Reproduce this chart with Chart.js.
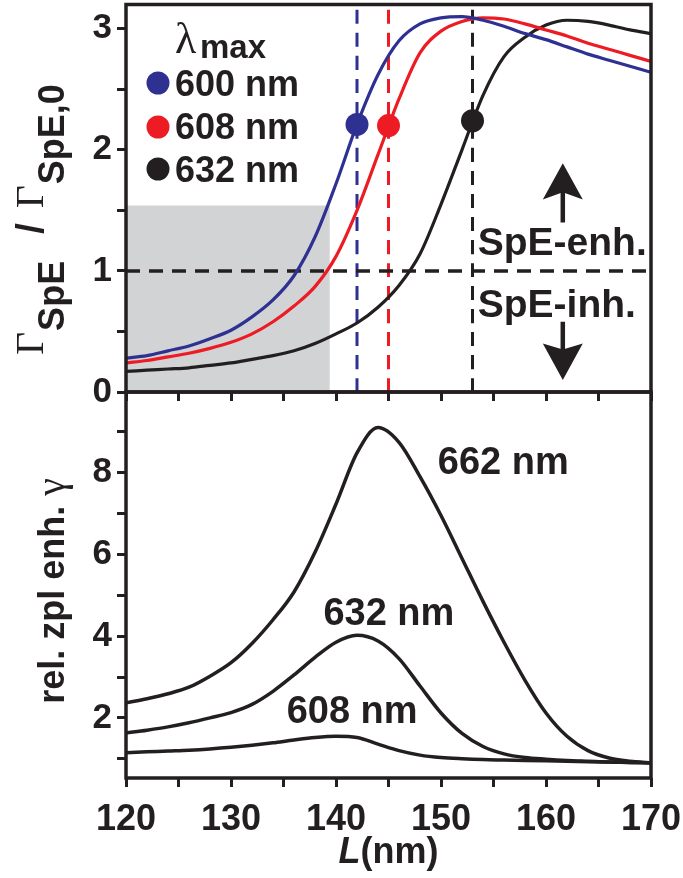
<!DOCTYPE html>
<html>
<head>
<meta charset="utf-8">
<script src="https://cdn.jsdelivr.net/npm/chart.js@4.4.0/dist/chart.umd.min.js"></script>
<style>
  html, body { margin: 0; padding: 0; background: #fff; }
  #wrap { position: relative; width: 683px; height: 878px; overflow: hidden; }
  /* the top canvas starts 7px above the page: Chart.js keeps room for the dot radius there */
  #topBox { position: absolute; left: 0; top: -7px; width: 683px; height: 427px; }
  #botBox { position: absolute; left: 0; top: 380px; width: 683px; height: 498px; }
</style>
</head>
<body>
<div id="wrap">
  <div id="topBox"><canvas id="topChart"></canvas></div>
  <div id="botBox"><canvas id="botChart"></canvas></div>
</div>
<script>
// cavity length L (nm), shared by all curves
const L = [120, 122, 124, 126, 128, 130, 132, 134, 136, 138, 140, 142, 144,
           146, 148, 150, 152, 154, 156, 158, 160, 162, 164, 166, 168, 170];

// top panel: Gamma_SpE / Gamma_SpE,0 for three lambda_max
const seriesNames = ['600 nm', '608 nm', '632 nm'];
const seriesColors = ['#2e3192', '#ed1c24', '#231f20'];
const rate600 = [0.28, 0.30, 0.34, 0.38, 0.44, 0.51, 0.62, 0.76, 0.96, 1.28, 1.72, 2.21, 2.62,
                 2.90, 3.04, 3.09, 3.10, 3.07, 3.02, 2.96, 2.91, 2.85, 2.79, 2.74, 2.69, 2.64];
const rate608 = [0.24, 0.26, 0.29, 0.32, 0.36, 0.41, 0.48, 0.58, 0.71, 0.87, 1.12, 1.50, 1.96,
                 2.42, 2.80, 2.98, 3.06, 3.09, 3.08, 3.04, 2.99, 2.94, 2.88, 2.83, 2.78, 2.73];
const rate632 = [0.17, 0.18, 0.19, 0.20, 0.22, 0.24, 0.27, 0.30, 0.34, 0.40, 0.48, 0.57, 0.70,
                 0.88, 1.14, 1.55, 2.00, 2.45, 2.77, 2.93, 3.03, 3.07, 3.06, 3.03, 2.99, 2.96];
const dotL = [142, 145, 153];
const dotRate = [2.21, 2.20, 2.24];
const shadeL = [120, 139.4];
const shadeTop = 1.54;

// bottom panel: relative zpl enhancement gamma
const zplNames = ['662 nm', '632 nm', '608 nm'];
const zpl662 = [2.37, 2.47, 2.59, 2.75, 3.02, 3.35, 3.82, 4.40, 5.08, 6.05, 7.23, 8.48, 9.10,
                8.74, 7.90, 6.95, 5.90, 4.85, 3.85, 2.92, 2.12, 1.55, 1.20, 1.02, 0.94, 0.90];
const zpl632 = [1.63, 1.70, 1.78, 1.88, 2.00, 2.13, 2.33, 2.65, 3.05, 3.48, 3.85, 4.02, 3.88,
                3.45, 2.78, 2.12, 1.62, 1.30, 1.12, 1.03, 0.99, 0.96, 0.94, 0.92, 0.91, 0.90];
const zpl608 = [1.15, 1.17, 1.19, 1.21, 1.24, 1.28, 1.33, 1.39, 1.46, 1.52, 1.55, 1.52, 1.36,
                1.20, 1.09, 1.03, 1.00, 0.98, 0.97, 0.96, 0.95, 0.94, 0.93, 0.92, 0.91, 0.90];

// ticks
const xTicks = [120, 125, 130, 135, 140, 145, 150, 155, 160, 165, 170];
const xLabels = [120, 130, 140, 150, 160, 170];
const topYTicks = [0, 0.5, 1, 1.5, 2, 2.5, 3];
const topYLabels = [0, 1, 2, 3];
const botYTicks = [1, 2, 3, 4, 5, 6, 7, 8, 9];
const botYLabels = [2, 4, 6, 8];

const INK = '#231f20';
const SANS = "'Liberation Sans', Arial, Helvetica, sans-serif";
const SERIF = "'Liberation Serif', 'Times New Roman', serif";
const TOP_SHIFT = 7;

function pts(xs, ys) {
  return xs.map((v, i) => ({ x: v, y: ys[i] }));
}

function tickGrid() {
  return { drawOnChartArea: false, drawTicks: true, tickLength: 9, tickWidth: 3, tickColor: INK };
}

// the frame is placed by layout padding only, not by label overhang
function noOverhang(ax) {
  ax.paddingTop = 0;
  ax.paddingBottom = 0;
  ax.paddingLeft = 0;
  ax.paddingRight = 0;
}

function axisX(showLabels, height) {
  return {
    type: 'linear', min: 120, max: 170,
    border: { display: false },
    grid: tickGrid(),
    afterBuildTicks: ax => { ax.ticks = xTicks.map(v => ({ value: v })); },
    afterFit: ax => { ax.height = height; noOverhang(ax); },
    ticks: {
      display: showLabels, autoSkip: false, maxRotation: 0, padding: 11, color: INK,
      font: { family: SANS, size: 36, weight: 'bold' },
      callback: v => xLabels.includes(v) ? String(v) : ''
    }
  };
}

function axisY(min, max, ticks, labels) {
  return {
    min: min, max: max,
    border: { display: false },
    grid: tickGrid(),
    afterBuildTicks: ax => { ax.ticks = ticks.map(v => ({ value: v })); },
    afterFit: ax => { ax.width = 126; noOverhang(ax); },
    ticks: {
      autoSkip: false, padding: 5, color: INK,
      font: { family: SANS, size: 35, weight: 'bold' },
      callback: v => labels.includes(v) ? String(v) : ''
    }
  };
}

function lineSet(data, color, width, dash) {
  return {
    data: data, borderColor: color, borderWidth: width, borderDash: dash || [],
    pointRadius: 0, fill: false, cubicInterpolationMode: 'monotone', order: 1
  };
}

function frame(chart) {
  const { ctx, chartArea: a } = chart;
  ctx.save();
  ctx.strokeStyle = INK;
  ctx.lineWidth = 3.5;
  ctx.strokeRect(a.left, a.top, a.right - a.left, a.bottom - a.top);
  ctx.restore();
}

// pieces: [text, font, gapBefore, baselineShift]
function drawRotated(ctx, x, y, pieces, centred) {
  ctx.save();
  ctx.translate(x, y);
  ctx.rotate(-Math.PI / 2);
  ctx.fillStyle = INK;
  ctx.textBaseline = 'alphabetic';
  ctx.textAlign = 'left';
  let total = 0;
  pieces.forEach(p => { ctx.font = p[1]; total += p[2] + ctx.measureText(p[0]).width; });
  let u = centred ? -total / 2 : 0;
  pieces.forEach(p => {
    ctx.font = p[1];
    u += p[2];
    ctx.fillText(p[0], u, p[3]);
    u += ctx.measureText(p[0]).width;
  });
  ctx.restore();
}

function arrowHead(ctx, x, tip, base, notch, half) {
  ctx.beginPath();
  ctx.moveTo(x, tip);
  ctx.lineTo(x + half, base);
  ctx.lineTo(x, notch);
  ctx.lineTo(x - half, base);
  ctx.closePath();
  ctx.fill();
}

const topDecor = {
  id: 'topDecor',
  beforeDatasetsDraw(chart) {
    const { ctx, scales: { x, y } } = chart;
    const x0 = x.getPixelForValue(shadeL[0]), x1 = x.getPixelForValue(shadeL[1]);
    const y0 = y.getPixelForValue(0), y1 = y.getPixelForValue(shadeTop);
    ctx.save();
    ctx.fillStyle = '#d1d3d4';
    ctx.fillRect(x0, y1, x1 - x0, y0 - y1);
    ctx.restore();
  },
  afterDatasetsDraw(chart) {
    const { ctx, chartArea: a, scales: { x, y } } = chart;
    frame(chart);
    ctx.save();
    ctx.fillStyle = INK;
    ctx.strokeStyle = INK;

    // enhancement / inhibition arrows
    const ax = x.getPixelForValue(161.6);
    ctx.lineWidth = 4.5;
    ctx.beginPath();
    ctx.moveTo(ax, y.getPixelForValue(1.40));
    ctx.lineTo(ax, y.getPixelForValue(1.66));
    ctx.moveTo(ax, y.getPixelForValue(0.58));
    ctx.lineTo(ax, y.getPixelForValue(0.34));
    ctx.stroke();
    arrowHead(ctx, ax, y.getPixelForValue(1.89), y.getPixelForValue(1.59), y.getPixelForValue(1.65), 20);
    arrowHead(ctx, ax, y.getPixelForValue(0.10), y.getPixelForValue(0.40), y.getPixelForValue(0.35), 20);

    ctx.font = 'bold 39px ' + SANS;
    ctx.textBaseline = 'alphabetic';
    ctx.fillText('SpE-enh.', x.getPixelForValue(153.5), y.getPixelForValue(1.13));
    ctx.fillText('SpE-inh.', x.getPixelForValue(153.5), y.getPixelForValue(0.62));

    // legend (page pixel positions, hence the shift)
    ctx.translate(0, TOP_SHIFT);
    ctx.font = '44px ' + SERIF;
    ctx.fillText('\u03bb', a.left + 49, 53);
    ctx.font = 'bold 33px ' + SANS;
    ctx.fillText('max', a.left + 74, 58);
    const rows = [[83, 96], [127, 139], [169, 182]];
    seriesNames.forEach((name, i) => {
      ctx.fillStyle = seriesColors[i];
      ctx.beginPath();
      ctx.arc(a.left + 32, rows[i][0], 11.5, 0, Math.PI * 2);
      ctx.fill();
      ctx.fillStyle = INK;
      ctx.font = 'bold 36px ' + SANS;
      ctx.fillText(name, a.left + 49, rows[i][1]);
    });
    ctx.restore();

    // y-axis title: Gamma_SpE / Gamma_SpE,0
    const g = '40px ' + SERIF, s = 'bold 36px ' + SANS;
    drawRotated(ctx, 43, 355 + TOP_SHIFT, [
      ['\u0393', g, 0, 0],
      ['SpE', s, 1, 21],
      ['/', 'bold 38px ' + SANS, 27, 0],
      ['\u0393', g, 15, 0],
      ['SpE,0', s, 1, 21]
    ], false);
  }
};

const botDecor = {
  id: 'botDecor',
  afterDatasetsDraw(chart) {
    const { ctx, scales: { x, y } } = chart;
    frame(chart);
    ctx.save();
    ctx.fillStyle = INK;
    ctx.textBaseline = 'alphabetic';
    ctx.font = 'bold 38px ' + SANS;
    const at = [[149.7, 7.97], [138.8, 4.28], [135.3, 1.88]];
    zplNames.forEach((name, i) => {
      ctx.fillText(name, x.getPixelForValue(at[i][0]), y.getPixelForValue(at[i][1]));
    });
    // x-axis title L(nm)
    ctx.font = 'italic bold 36px ' + SANS;
    const wL = ctx.measureText('L').width;
    ctx.font = 'bold 36px ' + SANS;
    const wN = ctx.measureText('(nm)').width;
    const cx = (chart.chartArea.left + chart.chartArea.right) / 2;
    const x0 = cx - (wL + wN) / 2;
    ctx.font = 'italic bold 36px ' + SANS;
    ctx.fillText('L', x0, 483);
    ctx.font = 'bold 36px ' + SANS;
    ctx.fillText('(nm)', x0 + wL, 483);
    ctx.restore();

    drawRotated(ctx, 64, 211, [
      ['rel. zpl enh. ', 'bold 36px ' + SANS, 0, 0],
      ['\u03b3', '40px ' + SERIF, 0, 0]
    ], true);
  }
};

const base = {
  responsive: true,
  maintainAspectRatio: false,
  animation: false,
  devicePixelRatio: 1,
  plugins: { legend: { display: false }, tooltip: { enabled: false } }
};

new Chart(document.getElementById('topChart'), {
  type: 'line',
  data: {
    datasets: [
      {
        data: pts(dotL, dotRate), showLine: false, pointRadius: 11.5, pointHoverRadius: 11.5,
        pointBorderWidth: 0, pointBackgroundColor: seriesColors, order: 0
      },
      lineSet(pts(L, rate600), seriesColors[0], 3.2),
      lineSet(pts(L, rate608), seriesColors[1], 3.2),
      lineSet(pts(L, rate632), seriesColors[2], 3.2),
      Object.assign(lineSet(pts([120, 170], [1, 1]), INK, 3.5, [14, 9]), { order: 2 }),
      Object.assign(lineSet(pts([dotL[0], dotL[0]], [0, 3.2]), seriesColors[0], 3, [14, 9]), { order: 2 }),
      Object.assign(lineSet(pts([dotL[1], dotL[1]], [0, 3.2]), seriesColors[1], 3, [14, 9]), { order: 2 }),
      Object.assign(lineSet(pts([dotL[2], dotL[2]], [0, 3.2]), INK, 3, [14, 9]), { order: 2 })
    ]
  },
  options: Object.assign({}, base, {
    layout: { padding: { left: 0, right: 32, top: 0, bottom: 0 } },
    scales: {
      x: axisX(false, 28),
      y: axisY(0, 3.2, topYTicks, topYLabels)
    }
  }),
  plugins: [topDecor]
});

new Chart(document.getElementById('botChart'), {
  type: 'line',
  data: {
    datasets: [
      lineSet(pts(L, zpl662), INK, 3.5),
      lineSet(pts(L, zpl632), INK, 3.5),
      lineSet(pts(L, zpl608), INK, 3.5)
    ]
  },
  options: Object.assign({}, base, {
    layout: { padding: { left: 0, right: 32, top: 12, bottom: 0 } },
    scales: {
      x: axisX(true, 100),
      y: axisY(0.53, 9.97, botYTicks, botYLabels)
    }
  }),
  plugins: [botDecor]
});
</script>
</body>
</html>
